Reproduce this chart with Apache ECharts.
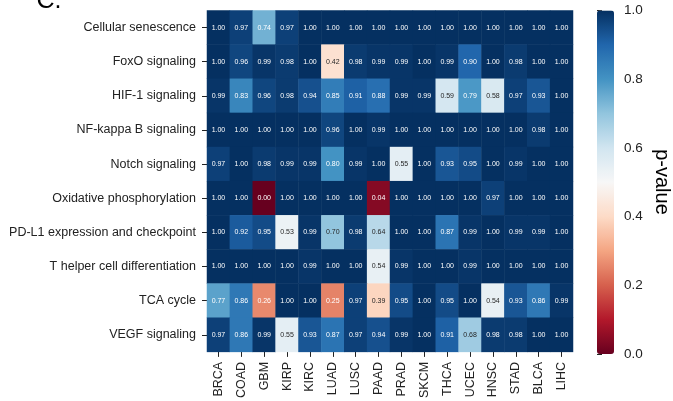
<!DOCTYPE html>
<html>
<head>
<meta charset="utf-8">
<script src="https://cdn.jsdelivr.net/npm/echarts@6/dist/echarts.min.js"></script>
<style>
  html, body { margin: 0; padding: 0; background: #fff; }
  #chart { width: 673px; height: 401px; }
</style>
</head>
<body>
<div id="chart"></div>
<script>
// Cancer types (columns) and pathways (rows)
const cancers = ['BRCA', 'COAD', 'GBM', 'KIRP', 'KIRC', 'LUAD', 'LUSC', 'PAAD',
                 'PRAD', 'SKCM', 'THCA', 'UCEC', 'HNSC', 'STAD', 'BLCA', 'LIHC'];
const pathways = ['Cellular senescence', 'FoxO signaling', 'HIF-1 signaling',
                  'NF-kappa B signaling', 'Notch signaling', 'Oxidative phosphorylation',
                  'PD-L1 expression and checkpoint', 'T helper cell differentiation',
                  'TCA cycle', 'VEGF signaling'];

// p-values, one row per pathway, in cancer order
const cellularSenescence = [1.00, 0.97, 0.74, 0.97, 1.00, 1.00, 1.00, 1.00, 1.00, 1.00, 1.00, 1.00, 1.00, 1.00, 1.00, 1.00];
const foxoSignaling      = [1.00, 0.96, 0.99, 0.98, 1.00, 0.42, 0.98, 0.99, 0.99, 1.00, 0.99, 0.90, 1.00, 0.98, 1.00, 1.00];
const hif1Signaling      = [0.99, 0.83, 0.96, 0.98, 0.94, 0.85, 0.91, 0.88, 0.99, 0.99, 0.59, 0.79, 0.58, 0.97, 0.93, 1.00];
const nfkbSignaling      = [1.00, 1.00, 1.00, 1.00, 1.00, 0.96, 1.00, 0.99, 1.00, 1.00, 1.00, 1.00, 1.00, 1.00, 0.98, 1.00];
const notchSignaling     = [0.97, 1.00, 0.98, 0.99, 0.99, 0.80, 0.99, 1.00, 0.55, 1.00, 0.93, 0.95, 1.00, 0.99, 1.00, 1.00];
const oxPhos             = [1.00, 1.00, 0.00, 1.00, 1.00, 1.00, 1.00, 0.04, 1.00, 1.00, 1.00, 1.00, 0.97, 1.00, 1.00, 1.00];
const pdl1Checkpoint     = [1.00, 0.92, 0.95, 0.53, 0.99, 0.70, 0.98, 0.64, 1.00, 1.00, 0.87, 0.99, 1.00, 0.99, 0.99, 1.00];
const thDifferentiation  = [1.00, 1.00, 1.00, 1.00, 0.99, 1.00, 1.00, 0.54, 0.99, 1.00, 1.00, 0.99, 1.00, 1.00, 1.00, 1.00];
const tcaCycle           = [0.77, 0.86, 0.26, 1.00, 1.00, 0.25, 0.97, 0.39, 0.95, 1.00, 0.95, 1.00, 0.54, 0.93, 0.86, 0.99];
const vegfSignaling      = [0.97, 0.86, 0.99, 0.55, 0.93, 0.87, 0.97, 0.94, 0.99, 1.00, 0.91, 0.68, 0.98, 0.98, 1.00, 1.00];

const rows = [cellularSenescence, foxoSignaling, hif1Signaling, nfkbSignaling, notchSignaling,
              oxPhos, pdl1Checkpoint, thDifferentiation, tcaCycle, vegfSignaling];

// Colorbar ticks
const colorTicks = [0.0, 0.2, 0.4, 0.6, 0.8, 1.0];

// Diverging red-blue palette (ColorBrewer RdBu, low to high)
const rdbu = ['#67001f', '#b2182b', '#d6604d', '#f4a582', '#fddbc7', '#f7f7f7',
              '#d1e5f0', '#92c5de', '#4393c3', '#2166ac', '#053061'];

function hexToRgb(h) {
  return [parseInt(h.slice(1, 3), 16), parseInt(h.slice(3, 5), 16), parseInt(h.slice(5, 7), 16)];
}
function colorAt(v) {
  const t = Math.max(0, Math.min(1, v)) * (rdbu.length - 1);
  const i = Math.min(Math.floor(t), rdbu.length - 2);
  const f = t - i;
  const a = hexToRgb(rdbu[i]), b = hexToRgb(rdbu[i + 1]);
  return a.map((c, k) => c + (b[k] - c) * f);
}
// Dark annotation text on light cells, white on dark ones
function textColorFor(v) {
  const lin = colorAt(v).map(c => {
    c /= 255;
    return c <= 0.03928 ? c / 12.92 : Math.pow((c + 0.055) / 1.055, 2.4);
  });
  const lum = 0.2126 * lin[0] + 0.7152 * lin[1] + 0.0722 * lin[2];
  return lum > 0.408 ? '#262626' : '#ffffff';
}

const cells = [];
rows.forEach((row, r) => {
  row.forEach((v, c) => {
    cells.push({ value: [c, r, v], label: { color: textColorFor(v) } });
  });
});

const FONT = '"Liberation Sans", Arial, sans-serif';
const gridTop = 10.5, gridBottom = 354, gridLeft = 207, gridRight = 573;
const barLeft = 597, barWidth = 17;

const chart = echarts.init(document.getElementById('chart'), null, { renderer: 'canvas' });
chart.setOption({
  animation: false,
  backgroundColor: '#ffffff',
  textStyle: { fontFamily: FONT },
  grid: [
    { left: gridLeft, top: gridTop, width: gridRight - gridLeft, height: gridBottom - gridTop },
    { left: barLeft, top: gridTop, width: barWidth, height: gridBottom - gridTop }
  ],
  xAxis: [
    {
      type: 'category', data: cancers, gridIndex: 0,
      axisLine: { show: false },
      axisTick: { show: true, alignWithLabel: true, length: 5, lineStyle: { color: '#222', width: 1 } },
      axisLabel: { rotate: 90, fontSize: 12.5, color: '#222', margin: 10, fontFamily: FONT },
      splitLine: { show: false }
    },
    { type: 'value', gridIndex: 1, show: false, min: 0, max: 1 }
  ],
  yAxis: [
    {
      type: 'category', data: pathways, gridIndex: 0, inverse: true,
      axisLine: { show: false },
      axisTick: { show: true, alignWithLabel: true, length: 5, lineStyle: { color: '#222', width: 1 } },
      axisLabel: { fontSize: 12.5, color: '#222', margin: 11, fontFamily: FONT },
      splitLine: { show: false }
    },
    {
      type: 'value', gridIndex: 1, position: 'right', min: colorTicks[0],
      max: colorTicks[colorTicks.length - 1], interval: 0.2,
      axisLine: { show: false },
      axisTick: { show: true, length: 5, lineStyle: { color: '#222', width: 1 } },
      axisLabel: { fontSize: 13.5, color: '#222', margin: 10, fontFamily: FONT,
                   formatter: v => v.toFixed(1) },
      splitLine: { show: false }
    }
  ],
  visualMap: {
    type: 'continuous',
    seriesIndex: 0,
    min: 0, max: 1,
    calculable: false,
    realtime: false,
    orient: 'vertical',
    left: barLeft, top: gridTop,
    itemWidth: barWidth, itemHeight: gridBottom - gridTop,
    padding: 0,
    text: null,
    showLabel: false,
    inRange: { color: rdbu }
  },
  graphic: [
    {
      type: 'text', x: 36.5, y: -11.6,
      style: { text: 'C.', fontSize: 25, fontFamily: FONT, fill: '#000',
               textVerticalAlign: 'top' }
    },
    {
      type: 'text', x: 662, y: 182, rotation: -Math.PI / 2,
      style: { text: 'p-value', fontSize: 20, fontFamily: FONT, fill: '#000',
               textAlign: 'center', textVerticalAlign: 'middle' }
    }
  ],
  series: [
    {
      type: 'heatmap',
      xAxisIndex: 0, yAxisIndex: 0,
      data: cells,
      label: {
        show: true, fontSize: 7, fontFamily: FONT,
        formatter: p => p.value[2].toFixed(2)
      },
      itemStyle: { borderWidth: 0 },
      emphasis: { disabled: true }
    }
  ]
});
</script>
</body>
</html>
